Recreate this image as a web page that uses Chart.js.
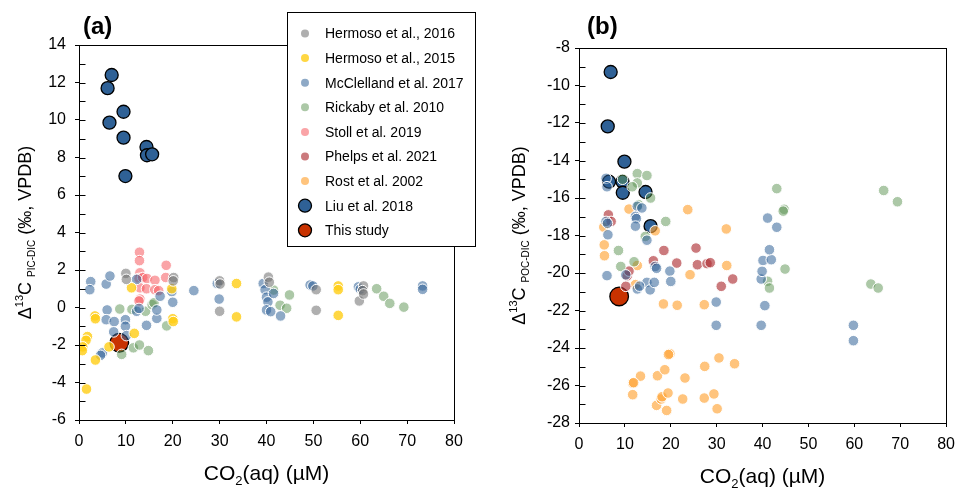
<!DOCTYPE html>
<html>
<head>
<meta charset="utf-8">
<script src="https://cdn.jsdelivr.net/npm/chart.js@4.4.1/dist/chart.umd.min.js"></script>
<style>
  body { margin: 0; background: #fff; }
  #wrap { position: relative; width: 963px; height: 488px; }
  canvas { position: absolute; top: 0; }
</style>
</head>
<body>
<div id="wrap">
  <canvas id="chartA" width="480" height="488" style="left:0"></canvas>
  <canvas id="chartB" width="483" height="488" style="left:480px"></canvas>
</div>
<script>
// ---- data: [CO2(aq) µM, Δ13C ‰] ----
const xTicks = [0, 10, 20, 30, 40, 50, 60, 70, 80];
const yTicksA = [14, 12, 10, 8, 6, 4, 2, 0, -2, -4, -6];
const yTicksB = [-8, -10, -12, -14, -16, -18, -20, -22, -24, -26, -28];

// (a) PIC-DIC
const hermoso16A = [[10,1.82],[10.1,1.5],[20.2,1.6],[20.1,1.42],[30,1.42],[30.1,1.25],[30,-0.2],[40.4,1.62],[40.6,1.35],
  [50.6,0.95],[50.6,-0.15],[60.7,1.15],[60.5,0.9],[59.8,0.35],[60.7,0.72]];
const hermoso15A = [[1.6,-4.35],[1.8,-1.55],[1.5,-1.75],[0.8,-2.1],[0.7,-2.3],[3.4,-0.45],[3.5,-0.6],[3.5,-2.8],[6.4,-2.1],
  [11.2,1.05],[11.8,-1.38],[20,-0.6],[20.1,-0.75],[19.8,1.0],[33.6,1.28],[33.6,-0.5],[55.3,1.15],[55.3,0.95],[55.3,-0.42]];
const mcclellandA = [[2.5,1.38],[2.3,0.95],[5.8,1.25],[6.6,1.68],[6.0,-0.13],[5.8,-0.65],[7.5,-0.75],[7.4,-1.3],[9.9,-0.65],
  [9.9,-1.0],[10.1,-1.5],[5.0,-2.42],[4.6,-2.55],[12.3,1.5],[12.3,-0.2],[12.8,-0.05],[14.4,-0.95],[16.6,-0.58],[16.6,-0.13],
  [17.3,0.6],[19.8,0.85],[20,0.28],[24.5,0.9],[29.5,1.28],[29.9,0.45],[39.3,1.28],[39.7,0.95],[40,0.55],[40.3,0.3],[40,-0.13],
  [40.9,-0.22],[43,-0.45],[41.5,0.75],[49.3,1.2],[49.9,1.15],[59.6,1.1],[60,0.98],[73.3,1.15],[73.3,0.97]];
const rickabyA = [[8.7,-0.08],[9.1,-2.5],[11.3,-0.1],[11.6,-2.15],[12.9,-2.0],[14.8,-2.3],[14.2,-0.2],[15.6,0.15],[16.0,0.25],
  [18.7,-0.98],[41.5,0.93],[42.9,0.12],[44.3,-0.04],[44.9,0.67],[63.5,1.0],[65.0,0.6],[66.3,0.22],[69.3,0.02]];
const stollA = [[12.9,2.95],[12.9,2.5],[13,1.85],[12.8,1.55],[13.6,1.6],[14.5,1.55],[16.2,1.45],[18.6,2.25],[18.5,1.6],
  [13,1.05],[14.4,1.0],[16.2,0.95],[17,0.9],[13,0.45],[12.8,0.35]];
const phelpsA = [];
const rostA = [];
const liuA = [[6.97,12.4],[6.1,11.7],[6.5,9.86],[9.5,10.44],[9.5,9.06],[9.9,7.01],[14.4,8.56],[14.5,8.12],[15.6,8.17]];
const thisStudyA = [[8.6,-1.88]];

// (b) POC-DIC
const hermoso16B = [];
const hermoso15B = [];
const mcclellandB = [[5.9,-14.95],[6.1,-15.4],[5.9,-17.25],[6.2,-17.35],[6.3,-17.96],[6.1,-20.14],[12.7,-16.44],[13.7,-16.53],
  [12.3,-16.98],[12.5,-17.1],[12.3,-17.5],[14.8,-18.25],[16.6,-19.65],[16.9,-19.75],[19.8,-19.9],[20,-20.45],[14.8,-20.5],
  [15.5,-20.9],[16.4,-20.5],[12.7,-20.85],[13.2,-20.7],[10.2,-20.1],[29.9,-21.55],[29.9,-22.79],[39.7,-22.79],[40.5,-21.74],
  [39.7,-20.32],[39.9,-19.91],[40.1,-19.33],[41.9,-19.29],[41.5,-18.76],[41.1,-17.07],[43.1,-17.56],[59.8,-22.79],[59.8,-23.61]];
const rickabyB = [[9.5,-15.0],[12.7,-14.7],[12.7,-15.2],[11.6,-15.4],[14.8,-14.8],[15.6,-16.0],[13,-16.36],[18.9,-17.25],
  [14.45,-18.05],[8.6,-18.8],[9.1,-19.65],[12.0,-19.4],[43.1,-15.5],[44.7,-16.6],[44.5,-16.7],[41.1,-20.44],[41.5,-20.8],
  [44.9,-19.79],[63.6,-20.59],[65.2,-20.8],[66.4,-15.6],[69.4,-16.2]];
const stollB = [];
const phelpsB = [[6.4,-16.9],[7.0,-17.25],[18.5,-18.8],[25.5,-18.67],[16.2,-19.35],[21.3,-19.47],[25.8,-19.56],[27.9,-19.5],
  [28.6,-19.45],[31,-20.71],[33.5,-20.32],[10.5,-20.15],[10.9,-19.9],[10.2,-20.71]];
const rostB = [[10.9,-16.59],[5.4,-17.55],[5.5,-18.5],[5.55,-19.08],[16.6,-17.75],[23.7,-16.62],[32.1,-17.65],[12.7,-19.6],
  [24.2,-20.09],[32.2,-19.6],[12.3,-20.62],[18.4,-21.65],[21.4,-21.72],[27.3,-21.69],[19.8,-24.3],[19.5,-24.35],[30.5,-24.53],
  [27.4,-24.98],[33.9,-24.84],[13.4,-25.5],[11.7,-25.87],[11.9,-25.85],[11.7,-26.49],[17.1,-25.48],[18.7,-25.16],[23.1,-25.6],
  [16.9,-27.06],[17.9,-26.72],[18.1,-26.6],[19.1,-27.33],[19.4,-26.4],[22.6,-26.72],[27.3,-26.67],[29.4,-26.45],[30.1,-27.24]];
const liuB = [[6.9,-9.28],[6.26,-12.18],[9.9,-14.06],[6.55,-15.13],[9.47,-15.13],[9.54,-15.72],[14.5,-15.68],[15.6,-17.5]];
const thisStudyB = [[8.75,-21.25]];

// ---- series styles ----
const series = [
  { label: 'Hermoso et al., 2016',    color: 'rgba(110,110,110,0.55)', r: 5.3 },
  { label: 'Hermoso et al., 2015',    color: 'rgba(255,205,20,0.8)',   r: 5.3 },
  { label: 'McClelland et al. 2017',  color: 'rgba(47,97,150,0.54)',   r: 5.3 },
  { label: 'Rickaby et al. 2010',     color: 'rgba(90,145,80,0.5)',    r: 5.3 },
  { label: 'Stoll et al. 2019',       color: 'rgba(245,90,95,0.55)',   r: 5.3 },
  { label: 'Phelps et al. 2021',      color: 'rgba(175,50,55,0.65)',   r: 5.3 },
  { label: 'Rost et al. 2002',        color: 'rgba(255,165,55,0.65)',  r: 5.3 },
  { label: 'Liu et al. 2018',         color: '#2f6196', r: 6.5, big: true },
  { label: 'This study',              color: '#c83200', r: 9.3, big: true }
];

const FONT = '"Liberation Sans", Arial, sans-serif';

function makeDatasets(lists) {
  return series.map((s, i) => ({
    label: s.label,
    data: lists[i].map(p => ({ x: p[0], y: p[1] })),
    backgroundColor: s.color,
    borderColor: s.big ? '#000' : '#fff',
    borderWidth: s.big ? 1.3 : 1,
    pointRadius: s.r,
    pointHoverRadius: s.r,
    big: s.big
  }));
}

function drawRuns(ctx, runs, cx, base) {
  let total = 0;
  runs.forEach(r => { ctx.font = r.size + 'px ' + FONT; r.w = ctx.measureText(r.t).width; total += r.w; });
  let x = cx - total / 2;
  ctx.textAlign = 'left';
  ctx.textBaseline = 'alphabetic';
  runs.forEach(r => { ctx.font = r.size + 'px ' + FONT; ctx.fillText(r.t, x, base + (r.dy || 0)); x += r.w; });
}

// frame, inner y ticks, panel letter, axis titles
const decor = {
  id: 'decor',
  afterDraw(chart, args, o) {
    const ctx = chart.ctx, a = chart.chartArea, ys = chart.scales.y;
    const L = Math.round(a.left) + 0.5;
    ctx.save();
    ctx.strokeStyle = '#000';
    ctx.lineWidth = 1;
    ctx.strokeRect(L, Math.round(a.top) + 0.5, Math.round(a.right - a.left), Math.round(a.bottom - a.top));

    // y ticks pointing into the plot, every 1 unit
    ctx.beginPath();
    ys.ticks.forEach(t => {
      const py = Math.round(ys.getPixelForValue(t.value)) + 0.5;
      ctx.moveTo(L, py);
      ctx.lineTo(L + 6, py);
    });
    ctx.stroke();

    ctx.fillStyle = '#000';
    ctx.font = 'bold 24px ' + FONT;
    ctx.textAlign = 'left';
    ctx.textBaseline = 'alphabetic';
    ctx.fillText(o.panel, a.left + o.panelDx, 34);

    drawRuns(ctx, [
      { t: 'CO', size: 21 },
      { t: '2', size: 13, dy: 5 },
      { t: '(aq) (µM)', size: 21 }
    ], (a.left + a.right) / 2, a.bottom + o.xTitleDy);

    ctx.translate(a.left - o.yTitleDx, (a.top + a.bottom) / 2);
    ctx.rotate(-Math.PI / 2);
    drawRuns(ctx, [
      { t: 'Δ', size: 18 },
      { t: '13', size: 11, dy: -8 },
      { t: 'C ', size: 18 },
      { t: o.sub, size: 10, dy: 4 },
      { t: ' (‰, VPDB)', size: 18 }
    ], 0, 0);
    ctx.restore();
  }
};

// boxed legend over panel (a)
const boxLegend = {
  id: 'boxLegend',
  afterDraw(chart) {
    const ctx = chart.ctx;
    ctx.save();
    ctx.fillStyle = '#fff';
    ctx.fillRect(287, 12, 188, 234);
    ctx.strokeStyle = '#000';
    ctx.lineWidth = 1;
    ctx.strokeRect(287.5, 12.5, 188, 234);
    chart.data.datasets.forEach((ds, i) => {
      const y = 33.5 + i * 24.6;
      ctx.beginPath();
      ctx.arc(305, y, ds.big ? 6.5 : 4, 0, Math.PI * 2);
      ctx.fillStyle = ds.backgroundColor;
      ctx.fill();
      if (ds.big) { ctx.lineWidth = 1.3; ctx.strokeStyle = '#000'; ctx.stroke(); }
      ctx.fillStyle = '#000';
      ctx.font = '14px ' + FONT;
      ctx.textBaseline = 'middle';
      ctx.textAlign = 'left';
      ctx.fillText(ds.label, 325, y + 1);
    });
    ctx.restore();
  }
};

function makeChart(id, lists, yMin, yMax, yLabels, cfg, plugins) {
  return new Chart(document.getElementById(id), {
    type: 'scatter',
    data: { datasets: makeDatasets(lists) },
    options: {
      responsive: false,
      animation: false,
      devicePixelRatio: 1,
      layout: { padding: { left: 0, right: cfg.padRight, top: cfg.padTop, bottom: 0 } },
      plugins: {
        legend: { display: false },
        tooltip: { enabled: false },
        decor: cfg.decor
      },
      scales: {
        x: {
          type: 'linear', min: 0, max: 80,
          afterFit: s => { s.height = cfg.xHeight; },
          border: { display: false },
          grid: { drawOnChartArea: false, drawTicks: true, tickLength: 4, color: '#000' },
          ticks: {
            stepSize: 10, autoSkip: false, maxRotation: 0, padding: 8, color: '#000',
            font: { family: FONT, size: 16 },
            callback: v => xTicks.includes(v) ? String(v) : ''
          }
        },
        y: {
          type: 'linear', min: yMin, max: yMax,
          afterFit: s => { s.width = cfg.yWidth; },
          border: { display: false },
          grid: {
            drawOnChartArea: false, drawTicks: true, tickLength: 4,
            tickColor: c => (c.tick && yLabels.includes(c.tick.value)) ? '#000' : 'rgba(0,0,0,0)'
          },
          ticks: {
            stepSize: 1, maxTicksLimit: 100, autoSkip: false, padding: cfg.yPad, color: '#000',
            font: { family: FONT, size: 16 },
            callback: v => yLabels.includes(v) ? String(v) : ''
          }
        }
      }
    },
    plugins: plugins
  });
}

makeChart('chartA',
  [hermoso16A, hermoso15A, mcclellandA, rickabyA, stollA, phelpsA, rostA, liuA, thisStudyA],
  -6, 14, yTicksA,
  { padRight: 26, padTop: 45, xHeight: 68, yWidth: 79, yPad: 9,
    decor: { panel: '(a)', panelDx: 4, sub: 'PIC-DIC', yTitleDx: 48, xTitleDy: 60 } },
  [decor, boxLegend]);

makeChart('chartB',
  [hermoso16B, hermoso15B, mcclellandB, rickabyB, stollB, phelpsB, rostB, liuB, thisStudyB],
  -28, -8, yTicksB,
  { padRight: 9, padTop: 48, xHeight: 65, yWidth: 99, yPad: 5,
    decor: { panel: '(b)', panelDx: 8, sub: 'POC-DIC', yTitleDx: 54, xTitleDy: 60 } },
  [decor]);
</script>
</body>
</html>
